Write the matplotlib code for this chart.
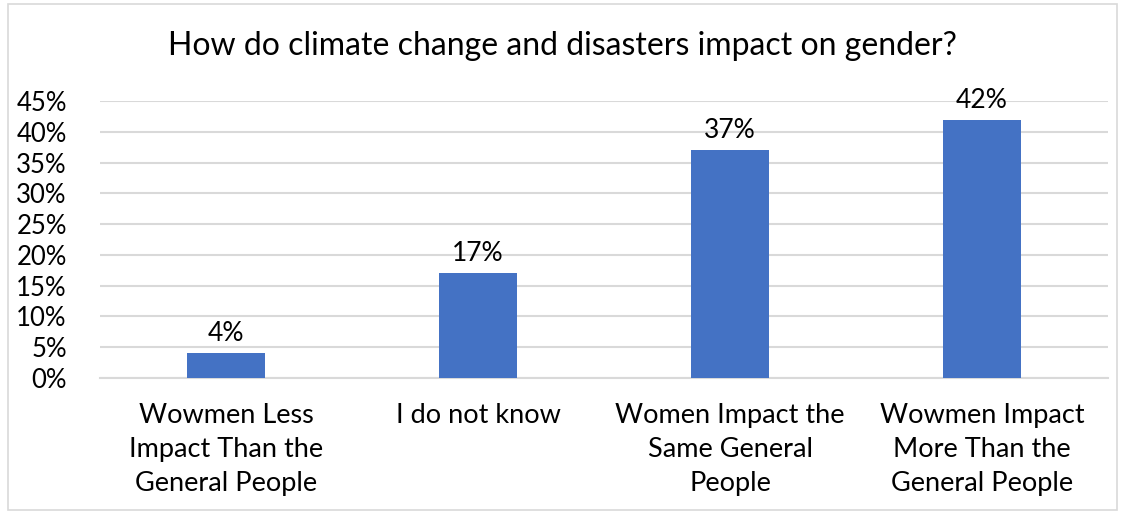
import matplotlib.pyplot as plt
from matplotlib.patches import Rectangle
from matplotlib.ticker import PercentFormatter

categories = ["Wowmen Less\nImpact Than the\nGeneral People",
              "I do not know",
              "Women Impact the\nSame General\nPeople",
              "Wowmen Impact\nMore Than the\nGeneral People"]
values = [0.04, 0.17, 0.37, 0.42]
labels = ["4%", "17%", "37%", "42%"]
yticks = [0, 0.05, 0.10, 0.15, 0.20, 0.25, 0.30, 0.35, 0.40, 0.45]

plt.rcParams['font.family'] = ['Lato', 'DejaVu Sans']

fig = plt.figure(figsize=(11.25, 5.14), dpi=100)
ax = fig.add_axes([0.089, 0.265, 0.896, 0.538])

x = range(len(categories))
ax.bar(x, values, width=0.31, color='#4472C4', zorder=3)
for xi, v, lab in zip(x, values, labels):
    ax.annotate(lab, (xi, v), xytext=(0, 5), textcoords='offset points',
                ha='center', va='bottom', fontsize=19)

ax.set_xlim(-0.5, 3.5)
ax.set_ylim(0, 0.45)
ax.set_yticks(yticks)
ax.yaxis.set_major_formatter(PercentFormatter(1.0, decimals=0))
ax.grid(axis='y', color='#d9d9d9', linewidth=1.5, zorder=0)
ax.set_xticks(list(x))
ax.set_xticklabels(categories, fontsize=19.5, linespacing=1.45)
ax.tick_params(axis='y', labelsize=18.5, length=0, pad=24)
ax.tick_params(axis='x', length=0, pad=18)
for s in ax.spines.values():
    s.set_visible(False)
ax.spines['bottom'].set_visible(True)
ax.spines['bottom'].set_color('#d9d9d9')
ax.spines['bottom'].set_linewidth(1.5)

fig.text(0.5, 0.91, "How do climate change and disasters impact on gender?",
         ha='center', va='center', fontsize=23)

fig.patches.append(Rectangle((0.007, 0.008), 0.986, 0.985, transform=fig.transFigure,
                             fill=False, edgecolor='#d9d9d9', linewidth=1.2))

fig.savefig('out.png', dpi=100)
